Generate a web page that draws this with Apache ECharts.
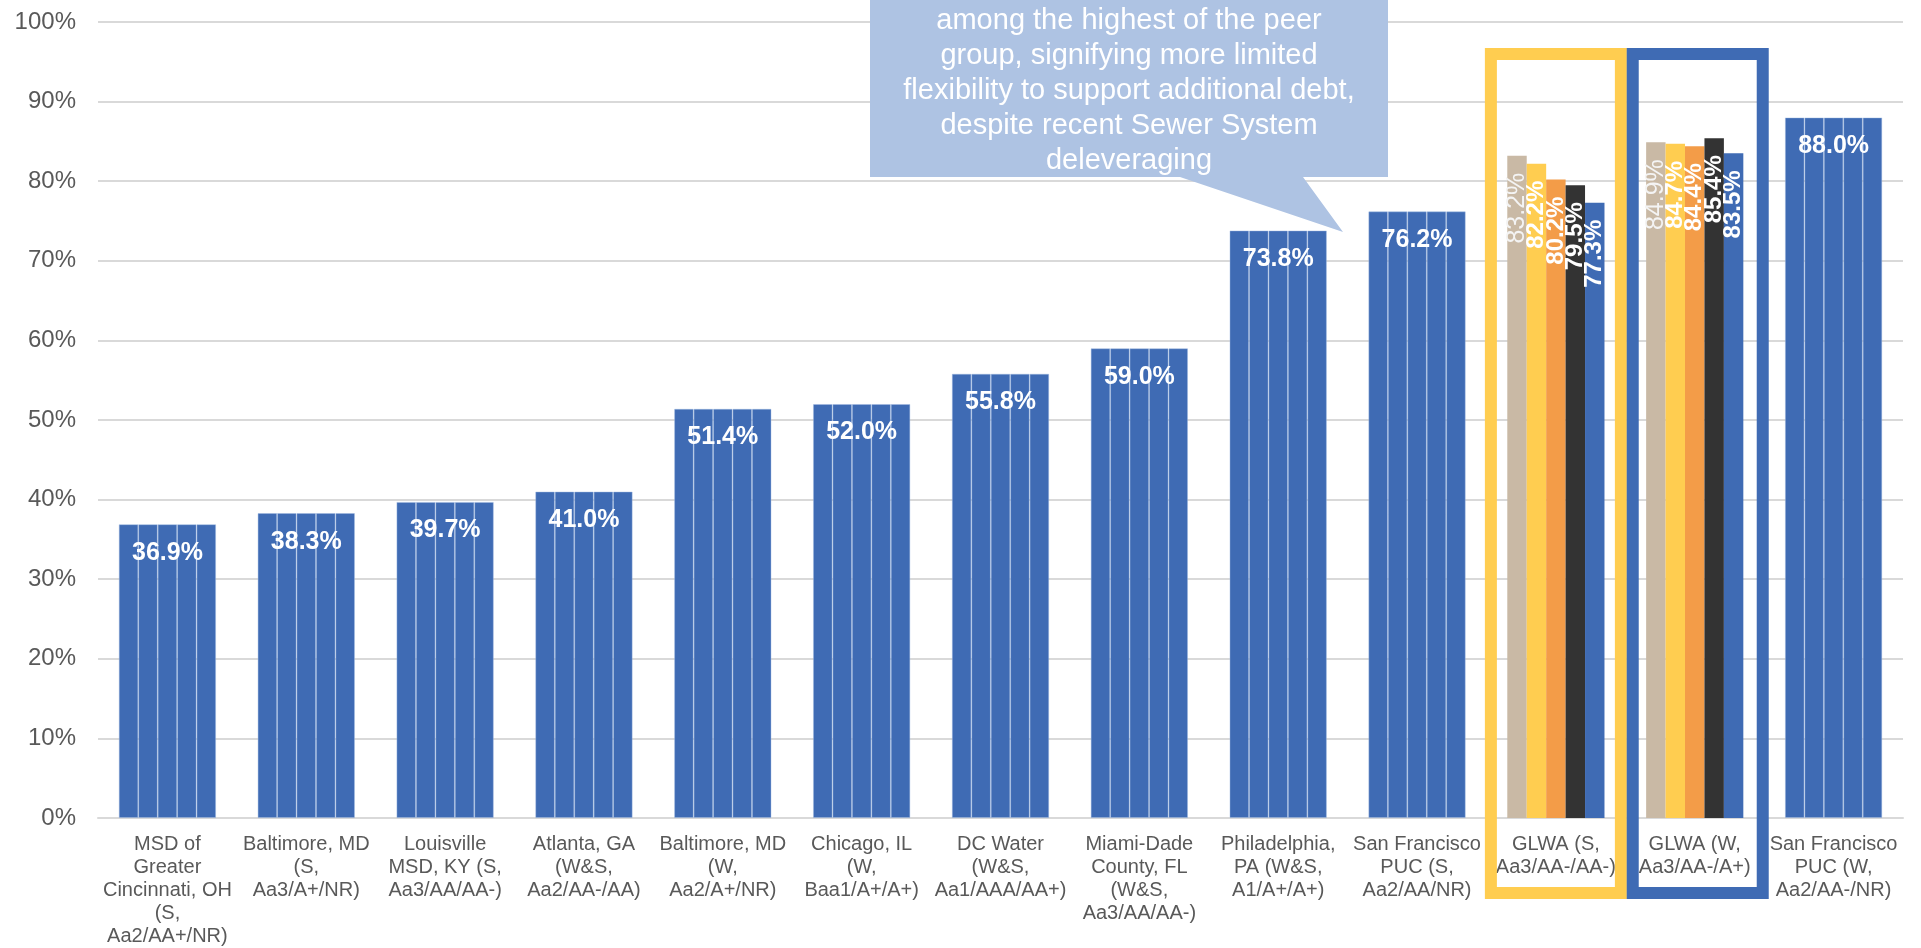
<!DOCTYPE html>
<html>
<head>
<meta charset="utf-8">
<script src="https://cdn.jsdelivr.net/npm/echarts@6/dist/echarts.min.js"></script>
<style>
html,body{margin:0;padding:0;background:#fff;}
#c{width:1921px;height:948px;}
</style>
</head>
<body>
<div id="c"></div>
<script>
const categories = [
  "MSD of\nGreater\nCincinnati, OH\n(S,\nAa2/AA+/NR)",
  "Baltimore, MD\n(S,\nAa3/A+/NR)",
  "Louisville\nMSD, KY (S,\nAa3/AA/AA-)",
  "Atlanta, GA\n(W&S,\nAa2/AA-/AA)",
  "Baltimore, MD\n(W,\nAa2/A+/NR)",
  "Chicago, IL\n(W,\nBaa1/A+/A+)",
  "DC Water\n(W&S,\nAa1/AAA/AA+)",
  "Miami-Dade\nCounty, FL\n(W&S,\nAa3/AA/AA-)",
  "Philadelphia,\nPA (W&S,\nA1/A+/A+)",
  "San Francisco\nPUC (S,\nAa2/AA/NR)",
  "GLWA (S,\nAa3/AA-/AA-)",
  "GLWA (W,\nAa3/AA-/A+)",
  "San Francisco\nPUC (W,\nAa2/AA-/NR)"
];
// peer values (same in all five series); null for GLWA categories
const peerValues = [36.9, 38.3, 39.7, 41.0, 51.4, 52.0, 55.8, 59.0, 73.8, 76.2, null, null, 88.0];
const glwaSewer = [83.2, 82.2, 80.2, 79.5, 77.3];
const glwaWater = [84.9, 84.7, 84.4, 85.4, 83.5];
const glwaSewerIndex = 10;
const glwaWaterIndex = 11;
const seriesColors = ['#C9B9A5', '#FFCD50', '#F39C48', '#333333', '#3F6BB4'];
const peerColor = '#3F6BB4';
const calloutLines = [
  "among the highest of the peer",
  "group, signifying more limited",
  "flexibility to support additional debt,",
  "despite recent Sewer System",
  "deleveraging"
];

const FONT = '"Liberation Sans", Arial, sans-serif';

function buildSeries(k) {
  const data = categories.map((c, i) => {
    if (i === glwaSewerIndex || i === glwaWaterIndex) {
      const v = (i === glwaSewerIndex ? glwaSewer : glwaWater)[k];
      return {
        value: v,
        itemStyle: { color: seriesColors[k], borderWidth: 0 },
        label: {
          show: true,
          position: 'insideTop',
          rotate: 90,
          align: 'right',
          verticalAlign: 'middle',
          distance: 17,
          fontSize: k === 0 ? 25 : 24,
          fontWeight: k === 0 ? 'normal' : 'bold',
          color: k === 0 ? '#F4F4F4' : '#FFFFFF',
          fontFamily: FONT,
          formatter: (p) => p.value.toFixed(1) + '%'
        }
      };
    }
    return {
      value: peerValues[i],
      itemStyle: { color: peerColor },
      label: {
        show: k === 2,
        position: 'insideTop',
        distance: 16,
        fontSize: 25,
        fontWeight: 'bold',
        color: '#FFFFFF',
        fontFamily: FONT,
        formatter: (p) => p.value.toFixed(1) + '%'
      }
    };
  });
  return {
    type: 'bar',
    name: 'S' + k,
    data: data,
    barGap: '0%',
    barCategoryGap: '30%',
    itemStyle: { borderColor: 'rgba(160,185,225,0.55)', borderWidth: 0.8 },
    emphasis: { disabled: true },
    animation: false,
    z: 2
  };
}

const chart = echarts.init(document.getElementById('c'), null, { renderer: 'canvas' });
const option = {
  animation: false,
  grid: { left: 98, right: 18, top: 22, bottom: 130, containLabel: false },
  xAxis: {
    type: 'category',
    data: categories,
    axisLine: { show: true, lineStyle: { color: '#D9D9D9', width: 2 } },
    axisTick: { show: false },
    axisLabel: {
      interval: 0,
      margin: 15,
      fontSize: 20,
      lineHeight: 23,
      color: '#595959',
      fontFamily: FONT,
      align: 'center'
    }
  },
  yAxis: {
    type: 'value',
    min: 0,
    max: 100,
    interval: 10,
    axisLine: { show: false },
    axisTick: { show: false },
    splitLine: { lineStyle: { color: '#D9D9D9', width: 2 } },
    axisLabel: {
      formatter: '{value}%',
      fontSize: 24,
      color: '#595959',
      fontFamily: FONT,
      margin: 22
    }
  },
  series: [0, 1, 2, 3, 4].map(buildSeries)
};
chart.setOption(option);

// Annotations anchored to the axes
const xS = chart.convertToPixel({ xAxisIndex: 0 }, glwaSewerIndex);
const xW = chart.convertToPixel({ xAxisIndex: 0 }, glwaWaterIndex);
const y0 = chart.convertToPixel({ yAxisIndex: 0 }, 0);
const yTop = 48;
const bw = 12;
const boxBottom = y0 + 81;

function frame(cx, leftHalf, rightHalf, color) {
  return {
    type: 'rect',
    shape: {
      x: cx - leftHalf + bw / 2,
      y: yTop + bw / 2,
      width: leftHalf + rightHalf - bw,
      height: boxBottom - yTop - bw
    },
    style: { fill: null, stroke: color, lineWidth: bw },
    z: 10,
    silent: true
  };
}

const cl = 870, cr = 1388, cb = 177;
chart.setOption({
  graphic: [
    frame(xS, 71, 71, '#FFCD50'),
    frame(xW, 68, 74, '#3F6BB4'),
    {
      type: 'polygon',
      shape: { points: [[cl, -10], [cr, -10], [cr, cb], [1303, cb], [1343, 232], [1180, cb], [cl, cb]] },
      style: { fill: '#AEC3E3' },
      z: 20,
      silent: true
    },
    {
      type: 'text',
      x: (cl + cr) / 2,
      y: 3.5,
      style: {
        text: calloutLines.join('\n'),
        fill: '#FFFFFF',
        font: '29px ' + FONT,
        lineHeight: 35,
        align: 'center',
        verticalAlign: 'top'
      },
      z: 21,
      silent: true
    }
  ]
});
</script>
</body>
</html>
